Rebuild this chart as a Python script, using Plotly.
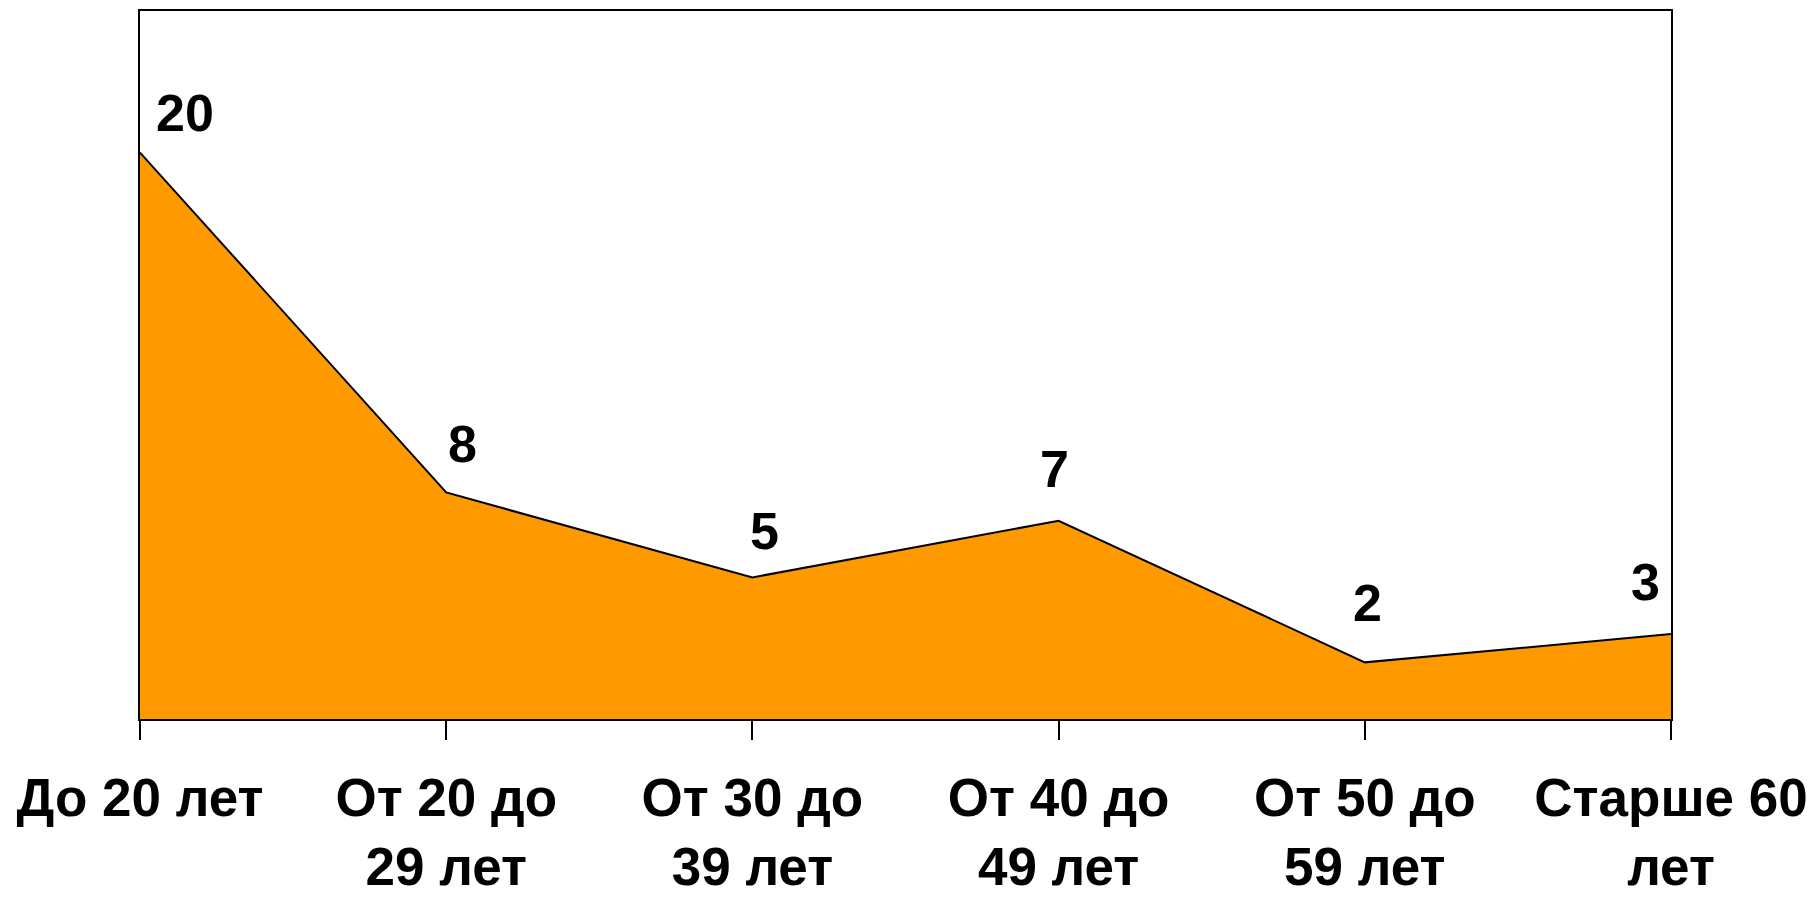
import plotly.graph_objects as go

categories = ["До 20 лет", "От 20 до<br>29 лет", "От 30 до<br>39 лет",
              "От 40 до<br>49 лет", "От 50 до<br>59 лет", "Старше 60<br>лет"]
values = [20, 8, 5, 7, 2, 3]

# label offsets in pixels (x, y-up) relative to each point
label_dx = [45, 16, 12, -4, 3, -26]
label_dy = [40, 48, 46, 52, 59, 52]

FONT = "Liberation Sans, Arial, sans-serif"

fig = go.Figure()
fig.add_trace(go.Scatter(
    x=list(range(len(categories))), y=values, mode="lines",
    fill="tozeroy", fillcolor="#FF9900",
    line=dict(color="#000000", width=2),
    hoverinfo="skip", showlegend=False,
))

for i, v in enumerate(values):
    fig.add_annotation(x=i, y=v, text=f"<b>{v}</b>", showarrow=False,
                       xanchor="center", yanchor="middle",
                       xshift=label_dx[i], yshift=label_dy[i],
                       font=dict(family=FONT, size=52, color="#000000"))

# page body has an 8px default margin, so margins are compensated
fig.update_layout(
    width=1817, height=902,
    margin=dict(l=132, r=154, t=3, b=191),
    paper_bgcolor="white", plot_bgcolor="white",
    font=dict(family=FONT, color="#000000"),
)
fig.update_xaxes(
    range=[0, len(categories) - 1],
    tickvals=list(range(len(categories))),
    ticktext=[f"<b>{c.replace('<br>', '</b><br><b>')}</b>" for c in categories],
    tickfont=dict(family=FONT, size=53, color="#000000"),
    ticks="outside", ticklen=19, tickwidth=2, tickcolor="#000000",
    ticklabelstandoff=12, automargin=False,
    showline=True, linecolor="#000000", linewidth=2, mirror=True,
    showgrid=False, zeroline=False,
)
fig.update_yaxes(
    range=[0, 25], showticklabels=False, ticks="", automargin=False,
    showline=True, linecolor="#000000", linewidth=2, mirror=True,
    showgrid=False, zeroline=False,
)

fig.write_html("out.html")
